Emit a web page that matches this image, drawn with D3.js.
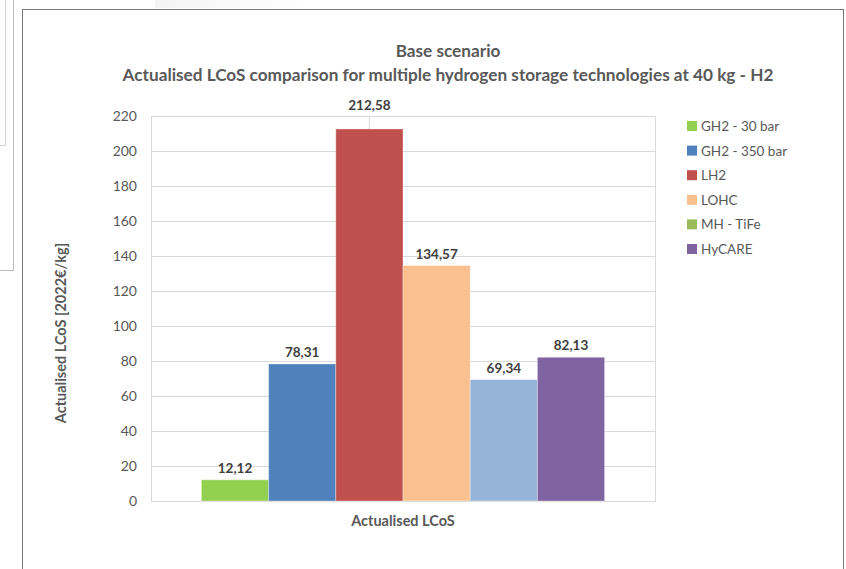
<!DOCTYPE html>
<html>
<head>
<meta charset="utf-8">
<script src="https://cdn.jsdelivr.net/npm/d3@7"></script>
<style>
  html, body { margin: 0; padding: 0; background: #fff; }
  svg { display: block; font-family: Lato, "Open Sans", sans-serif; }
</style>
</head>
<body>
<svg id="chart" width="846" height="569"></svg>
<script>
// Chart content
const titleLines = ["Base scenario", "Actualised LCoS comparison for multiple hydrogen storage technologies at 40 kg - H2"];
const categories = ["Actualised LCoS"];
const seriesNames = ["GH2 - 30 bar", "GH2 - 350 bar", "LH2", "LOHC", "MH - TiFe", "HyCARE"];
const seriesValues = [12.12, 78.31, 212.58, 134.57, 69.34, 82.13];
const barColors = ["#92D050", "#4F81BD", "#C0504D", "#FAC090", "#95B3D7", "#8064A2"];
const legendColors = ["#92D050", "#4F81BD", "#C0504D", "#FAC090", "#9BBB59", "#8064A2"];
const yAxisTitle = "Actualised LCoS [2022€/kg]";
const yDomain = [0, 220];
const yTickStep = 20;

const svg = d3.select("#chart");
const plot = { left: 151, right: 655, top: 116, bottom: 501 };
const textGrey = "#595959";
const labelGrey = "#404040";
const gridGrey = "#D9D9D9";

// Window chrome behind the chart frame
const defs = svg.append("defs");
const fade = defs.append("linearGradient").attr("id", "topFade");
fade.append("stop").attr("offset", "0%").attr("stop-color", "#F4F4F4");
fade.append("stop").attr("offset", "100%").attr("stop-color", "#FFFFFF");
svg.append("rect").attr("x", 155).attr("y", 0).attr("width", 160).attr("height", 8).attr("fill", "url(#topFade)");
svg.append("path").attr("d", "M5.5,0V145.5H0").attr("fill", "none").attr("stroke", "#D0D0D0");
svg.append("path").attr("d", "M13.5,0V270.5H0").attr("fill", "none").attr("stroke", "#BDBDBD");

// Chart frame
svg.append("rect")
  .attr("x", 22.5).attr("y", 9.5).attr("width", 821).attr("height", 600)
  .attr("fill", "#fff").attr("stroke", "#767676").attr("stroke-width", 1);

// Scales
const y = d3.scaleLinear().domain(yDomain).range([plot.bottom, plot.top]);
const x0 = d3.scaleBand().domain(categories).range([plot.left, plot.right])
  .paddingInner(0).paddingOuter(0.125);
const x1 = d3.scaleBand().domain(seriesNames).range([0, x0.bandwidth()]);
const yTicks = d3.range(yDomain[0], yDomain[1] + 1, yTickStep);

// Gridlines
svg.append("g").selectAll("line").data(yTicks).join("line")
  .attr("x1", plot.left).attr("x2", plot.right)
  .attr("y1", d => Math.round(y(d)) + 0.5).attr("y2", d => Math.round(y(d)) + 0.5)
  .attr("stroke", gridGrey).attr("stroke-width", 1);

// Plot area border
svg.append("rect")
  .attr("x", plot.left + 0.5).attr("y", plot.top + 0.5)
  .attr("width", plot.right - plot.left).attr("height", plot.bottom - plot.top)
  .attr("fill", "none").attr("stroke", gridGrey);

// Y axis labels
const yAxis = svg.append("g")
  .attr("transform", `translate(${plot.left},0)`)
  .call(d3.axisLeft(y).tickValues(yTicks).tickSize(0).tickPadding(14).tickFormat(d3.format("d")));
yAxis.select(".domain").remove();
yAxis.selectAll("text").attr("fill", textGrey).style("font-size", "14px").style("font-family", "Lato, sans-serif");

// Bars
const group = svg.append("g").selectAll("g").data(categories).join("g")
  .attr("transform", d => `translate(${x0(d)},0)`);

group.selectAll("rect").data(seriesNames.map((s, i) => ({ s, v: seriesValues[i], c: barColors[i] })))
  .join("rect")
  .attr("x", d => x1(d.s))
  .attr("y", d => y(d.v))
  .attr("width", x1.bandwidth())
  .attr("height", d => y(0) - y(d.v))
  .attr("fill", d => d.c)
  .attr("stroke", "rgba(255,255,255,0.35)")
  .attr("stroke-width", 1);

// Value labels; the tallest one sits above the plot with a leader line
const fmt = v => d3.format(".2f")(v).replace(".", ",");
const labels = group.selectAll("g.lbl").data(seriesNames.map((s, i) => ({ s, v: seriesValues[i] })))
  .join("g").attr("class", "lbl");

labels.each(function (d) {
  const g = d3.select(this);
  const cx = x1(d.s) + x1.bandwidth() / 2;
  const barTop = y(d.v);
  let ly = barTop - 7;
  if (barTop - 24 < plot.top) {
    ly = plot.top - 6;
    g.append("line")
      .attr("x1", cx).attr("x2", cx)
      .attr("y1", plot.top).attr("y2", barTop)
      .attr("stroke", gridGrey).attr("stroke-width", 1);
  }
  g.append("text")
    .attr("x", cx).attr("y", ly)
    .attr("text-anchor", "middle")
    .attr("fill", labelGrey)
    .style("font-size", "13.5px").style("font-weight", "bold")
    .text(fmt(d.v));
});

// Titles
svg.append("g").selectAll("text").data(titleLines).join("text")
  .attr("x", 448).attr("y", (d, i) => 57 + i * 24)
  .attr("text-anchor", "middle")
  .attr("fill", textGrey)
  .style("font-size", "17.2px").style("font-weight", "bold")
  .text(d => d);

// Axis titles
svg.append("text")
  .attr("x", (plot.left + plot.right) / 2).attr("y", 526)
  .attr("text-anchor", "middle").attr("fill", textGrey)
  .style("font-size", "14.5px").style("font-weight", "bold")
  .text(categories[0]);

svg.append("text")
  .attr("transform", `translate(66,333) rotate(-90)`)
  .attr("text-anchor", "middle").attr("fill", textGrey)
  .style("font-size", "14.5px").style("font-weight", "bold")
  .text(yAxisTitle);

// Legend
const legend = svg.append("g").attr("transform", "translate(687,121)");
const row = legend.selectAll("g").data(seriesNames).join("g")
  .attr("transform", (d, i) => `translate(0,${i * 24.6})`);
row.append("rect").attr("width", 10).attr("height", 10).attr("fill", (d, i) => legendColors[i]);
row.append("text").attr("x", 14).attr("y", 10)
  .attr("fill", textGrey).style("font-size", "13.5px")
  .text(d => d);
</script>
</body>
</html>
